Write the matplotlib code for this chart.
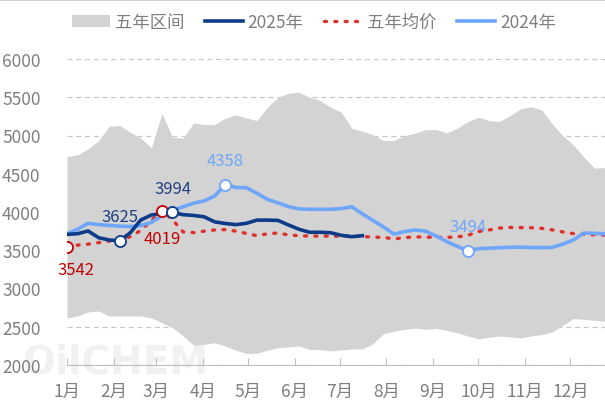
import numpy as np
import matplotlib
matplotlib.use("Agg")
import matplotlib.pyplot as plt
from matplotlib.patches import Patch
from matplotlib.lines import Line2D

plt.rcParams['font.family'] = ['Noto Sans CJK SC', 'DejaVu Sans']

# weekly data, 52 weeks
band_high = [4725, 4747, 4825, 4934, 5121, 5130, 5043, 4965, 4838, 5291,
             4978, 4965, 5164, 5143, 5143, 5226, 5269, 5230, 5195, 5369,
             5500, 5552, 5565, 5500, 5456, 5370, 5304, 5095, 5056, 5012,
             4934, 4934, 4999, 5030, 5077, 5077, 5034, 5095, 5182, 5239,
             5195, 5182, 5260, 5347, 5377, 5334, 5151, 4999, 4877, 4717,
             4573, 4581]
band_low = [2615, 2641, 2693, 2706, 2641, 2641, 2641, 2641, 2615, 2554,
            2488, 2380, 2258, 2270, 2292, 2249, 2192, 2153, 2153, 2192,
            2227, 2236, 2249, 2201, 2201, 2184, 2197, 2210, 2210, 2279,
            2410, 2440, 2466, 2484, 2466, 2479, 2453, 2419, 2380, 2341,
            2362, 2380, 2367, 2354, 2380, 2397, 2432, 2519, 2606, 2597,
            2584, 2571]
y2025 = [3708, 3716, 3752, 3664, 3634, 3625, 3729, 3896, 3961, 3978,
         3994, 3965, 3955, 3937, 3871, 3850, 3835, 3852, 3894, 3894,
         3890, 3830, 3774, 3735, 3735, 3729, 3695, 3677, 3690]
y_avg = [3542, 3567, 3580, 3600, 3620, 3636, 3676, 3760, 3890, 4019,
         3900, 3740, 3730, 3750, 3765, 3770, 3750, 3720, 3690, 3715,
         3725, 3700, 3690, 3685, 3685, 3685, 3685, 3685, 3680, 3672,
         3668, 3648, 3665, 3675, 3672, 3668, 3668, 3675, 3695, 3745,
         3765, 3790, 3798, 3796, 3794, 3786, 3766, 3740, 3718, 3708,
         3702, 3698]
y2024 = [3715, 3775, 3852, 3835, 3825, 3815, 3810, 3822, 3865, 3950,
         4020, 4068, 4115, 4145, 4210, 4358, 4320, 4318, 4245, 4165,
         4120, 4070, 4040, 4035, 4035, 4035, 4045, 4068, 3975, 3890,
         3805, 3710, 3745, 3765, 3750, 3685, 3613, 3551, 3494, 3520,
         3527, 3534, 3538, 3540, 3536, 3534, 3538, 3580, 3635, 3725,
         3721, 3714]
months = ['1月', '2月', '3月', '4月', '5月', '6月', '7月', '8月', '9月', '10月', '11月', '12月']
month_len = [31, 28, 31, 30, 31, 30, 31, 31, 30, 31, 30, 31]

# marked points: week index for each series
mark_avg = [0, 9]
mark_2025 = [5, 10]
mark_2024 = [15, 38]

c_band = '#d3d3d3'
c_2025 = '#0c3b8a'
c_avg = '#e0302b'
c_2024 = '#6ea6fb'
c_grey = '#7f7f7f'

W, H = 605, 406
fig = plt.figure(figsize=(W / 100, H / 100), dpi=100)
ax = fig.add_axes([67 / W, 1 - 366 / H, 538 / W, 306 / H])
ax.patch.set_alpha(0)
ax.set_zorder(1)

# faint watermark behind the plot
fig.text(22 / W, 1 - 382 / H, 'OilCHEM', fontsize=28, fontweight='bold',
         color='#f1f1f1', family='DejaVu Sans', va='bottom', zorder=-5)
fig.add_artist(Line2D([0, 1], [0.998, 0.998], color='#c8c8c8', lw=1.2))

wk = np.arange(len(band_high))
ax.fill_between(wk, band_low, band_high, color=c_band, lw=0, zorder=2)

x25 = np.arange(len(y2025))
ax.plot(wk, y_avg, color=c_avg, lw=2.4, ls=(0, (0.6, 2.5)),
        dash_capstyle='round', zorder=3)
ax.plot(wk, y2024, color=c_2024, lw=2.6, zorder=4, solid_joinstyle='round')
ax.plot(x25, y2025, color=c_2025, lw=2.6, zorder=5, solid_joinstyle='round')

ms = dict(marker='o', ms=8, mfc='white', mew=1.3, ls='none', zorder=6)
ax.plot(mark_avg, [y_avg[i] for i in mark_avg], mec='#c00000', **ms)
ax.plot(mark_2025, [y2025[i] for i in mark_2025], mec=c_2025, **ms)
ax.plot(mark_2024, [y2024[i] for i in mark_2024], mec=c_2024, **ms)

# value labels
lab = dict(fontsize=12, ha='center', va='center', zorder=7)
ax.annotate(f"{y_avg[0]}", (0, y_avg[0]), xytext=(9, -22), textcoords='offset pixels',
            color='#c00000', **lab)
ax.annotate(f"{y_avg[9]}", (9, y_avg[9]), xytext=(0, -28), textcoords='offset pixels',
            color='#c00000', **lab)
for i in mark_2025:
    ax.annotate(f"{y2025[i]}", (i, y2025[i]), xytext=(0, 24), textcoords='offset pixels',
                color='#1f3f7f', **lab)
for i in mark_2024:
    ax.annotate(f"{y2024[i]}", (i, y2024[i]), xytext=(0, 24), textcoords='offset pixels',
                color=c_2024, **lab)

ax.set_xlim(0, 51)
ax.set_ylim(2000, 6000)
ax.set_yticks(np.arange(2000, 6001, 500))
ax.grid(axis='y', color='#c8c8c8', ls=(0, (4, 3)), lw=0.9, zorder=0)
ax.set_axisbelow(True)

starts = np.concatenate([[0], np.cumsum(month_len)[:-1]]) / 7
ax.set_xticks(starts)
ax.set_xticklabels(months)
ax.tick_params(axis='x', direction='in', length=5, color='#bfbfbf', pad=12,
               labelsize=12.5, labelcolor=c_grey)
ax.tick_params(axis='y', length=0, pad=19, labelsize=12.5, labelcolor=c_grey)
for s in ['top', 'right', 'left']:
    ax.spines[s].set_visible(False)
ax.spines['bottom'].set_color('#bfbfbf')

handles = [Patch(facecolor=c_band, edgecolor='none'),
           Line2D([], [], color=c_2025, lw=2.6),
           Line2D([], [], color=c_avg, lw=2.4, ls=(0, (0.6, 2.5)), dash_capstyle='round'),
           Line2D([], [], color=c_2024, lw=2.6)]
fig.legend(handles, ['五年区间', '2025年', '五年均价', '2024年'], ncol=4,
           loc='center', bbox_to_anchor=(0.519, 1 - 23 / H), frameon=False,
           fontsize=12.5, labelcolor=c_grey, handlelength=2.2, handletextpad=0.25,
           columnspacing=1.2, borderpad=0)

fig.savefig('out.png', dpi=100)
